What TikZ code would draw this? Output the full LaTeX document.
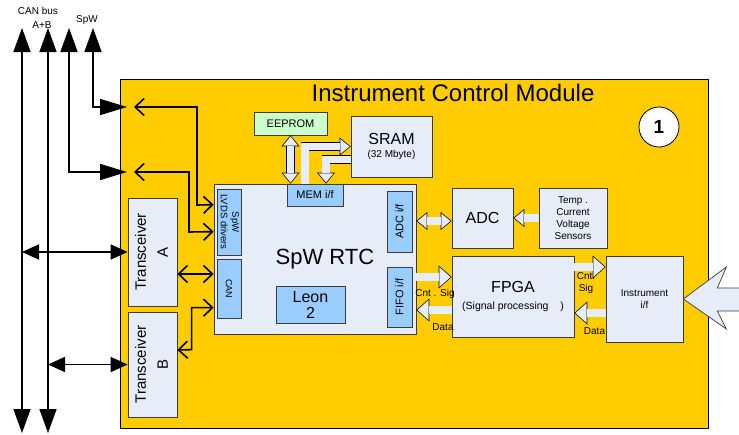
\documentclass[tikz,border=0pt]{standalone}
\usepackage{fontspec}
\setmainfont{Liberation Sans}
\usepackage{graphicx}
\usetikzlibrary{arrows.meta}
\definecolor{modyellow}{RGB}{255,204,0}
\definecolor{panel}{RGB}{230,236,248}
\definecolor{ifblue}{RGB}{153,204,255}
\definecolor{romgreen}{RGB}{204,255,204}
\definecolor{boxline}{RGB}{60,60,60}
\newcommand{\fsz}[2]{\fontsize{#1}{#2}\selectfont}

\begin{document}
\begin{tikzpicture}[x=1pt, y=-1pt, every node/.style={font=\fsz{10}{12}, inner sep=0pt}]
  \tikzstyle{box}=[rectangle, draw=boxline, line width=0.7pt, fill=panel, align=center]
  \tikzstyle{ifbox}=[box, fill=ifblue]
  \tikzstyle{bus}=[line width=1.6pt]
  \tikzstyle{fat}=[line width=8.5pt, line join=miter, -{Triangle[length=11pt,width=18pt,line width=0pt]},
    postaction={draw=panel, line width=7.1pt, line join=miter, shorten >=1.1pt, -{Triangle[length=9.2pt,width=15pt,line width=0pt]}}]
  \tikzstyle{fatbig}=[line width=8.5pt, line join=miter, -{Triangle[length=13pt,width=23pt,line width=0pt]},
    postaction={draw=panel, line width=7.1pt, line join=miter, shorten >=1.06pt, -{Triangle[length=11.2pt,width=19.9pt,line width=0pt]}}]
  \tikzstyle{fatboth}=[line width=8.5pt, line join=miter, {Triangle[length=11pt,width=18pt,line width=0pt]}-{Triangle[length=11pt,width=18pt,line width=0pt]},
    postaction={draw=panel, line width=7.1pt, line join=miter, shorten >=1.1pt, shorten <=1.1pt, {Triangle[length=9.2pt,width=15pt,line width=0pt]}-{Triangle[length=9.2pt,width=15pt,line width=0pt]}}]
  \tikzstyle{barbs}=[{Straight Barb[length=9pt,width=17pt]}-{Straight Barb[length=9pt,width=17pt]}]
  \useasboundingbox (0,0) rectangle (739,434);

  % module
  \node[rectangle, draw=black, line width=0.8pt, fill=modyellow, minimum width=588pt, minimum height=349pt] (icm) at (414,253.5) {};
  \node[font=\fsz{24}{28}] (title) at (453,93) {Instrument Control Module};
  \node[circle, draw=black, line width=0.8pt, fill=white, minimum size=40pt, font=\fsz{19}{22}\bfseries] (tag) at (659,127) {1};

  % bus labels
  \node (canlbl) at (38,11) {CAN bus};
  \node (ablbl) at (42,25) {A+B};
  \node (spwlbl) at (87,20) {SpW};

  % boxes
  \node[box, minimum width=49pt, minimum height=108pt, font=\fsz{15}{22}] (tra) at (152.5,252) {\rotatebox{90}{\begin{tabular}{@{}c@{}}Transceiver\\A\end{tabular}}};
  \node[box, minimum width=49pt, minimum height=105pt, font=\fsz{15}{22}] (trb) at (152.5,364.5) {\rotatebox{90}{\begin{tabular}{@{}c@{}}Transceiver\\B\end{tabular}}};
  \node[box, minimum width=202pt, minimum height=150pt, font=\fsz{22}{26}] (rtc) at (315,259) {\hspace*{20pt}SpW RTC};
  \node[ifbox, minimum width=24pt, minimum height=66pt, font=\fsz{9.5}{11.5}] (lvds) at (229,222) {\rotatebox{-90}{\begin{tabular}{@{}c@{}}SpW\\LVDS drivers\end{tabular}}};
  \node[ifbox, minimum width=24pt, minimum height=59pt, font=\fsz{9}{11}] (can) at (229,288.5) {\rotatebox{-90}{CAN}};
  \node[ifbox, minimum width=25pt, minimum height=61pt, font=\fsz{11}{13}] (adcif) at (399.5,221.5) {\rotatebox{90}{ADC i/f}};
  \node[ifbox, minimum width=25pt, minimum height=60pt, font=\fsz{11}{13}] (fifoif) at (399.5,297) {\rotatebox{90}{FIFO i/f}};
  \node[ifbox, minimum width=69pt, minimum height=37pt, font=\fsz{16}{16}] (leon) at (310.5,304.5) {Leon\\2};
  \node[ifbox, minimum width=56pt, minimum height=22pt, font=\fsz{11}{13}] (mem) at (315,195) {MEM i/f};
  \node[box, fill=romgreen, minimum width=73pt, minimum height=23pt, font=\fsz{11}{13}] (eeprom) at (290.5,123.5) {EEPROM};
  \node[box, minimum width=81pt, minimum height=61pt] (sram) at (391.5,146.5) {{\fsz{16}{18}SRAM}\\[1pt]{\fsz{10}{12}(32 Mbyte)}};
  \node[box, minimum width=61pt, minimum height=60pt, font=\fsz{16}{18}] (adc) at (482.5,218) {ADC};
  \node[box, minimum width=68pt, minimum height=60pt] (sens) at (573,218) {Temp .\\Current\\Voltage\\Sensors};
  \node[box, minimum width=122pt, minimum height=81pt] (fpga) at (513,296.5) {{\fsz{16}{18}FPGA}\\[5pt]{\fsz{10.5}{12}(Signal processing\ \ \ \ )}};
  \node[box, minimum width=77pt, minimum height=86pt] (instr) at (644.5,299) {Instrument\\i/f};

  % bus lines
  \coordinate (b1t) at (22,28);
  \coordinate (b1b) at (22,433);
  \coordinate (b2t) at (48,28);
  \coordinate (b2b) at (48,433);
  \coordinate (b3t) at (69,28);
  \coordinate (b4t) at (93,28);
  \coordinate (sp1) at (127,107);
  \coordinate (sp2) at (127,172);
  \coordinate (spi1) at (134,107);
  \coordinate (spi2) at (134,172);
  \draw[bus, {Triangle[length=24pt,width=17pt]}-{Triangle[length=24pt,width=17pt]}] (b1t) -- (b1b);
  \draw[bus, {Triangle[length=24pt,width=17pt]}-{Triangle[length=24pt,width=17pt]}] (b2t) -- (b2b);
  \draw[bus, {Triangle[length=24pt,width=17pt]}-{Triangle[length=27pt,width=16pt]}] (b3t) |- (sp2);
  \draw[bus, {Triangle[length=24pt,width=17pt]}-{Triangle[length=27pt,width=16pt]}] (b4t) |- (sp1);
  \draw[bus, {Triangle[length=17pt,width=15pt]}-{Triangle[length=17pt,width=15pt]}] (b1t |- tra.west) -- (tra.west);
  \draw[bus, {Triangle[length=17pt,width=15pt]}-{Triangle[length=17pt,width=15pt]}] (b2t |- trb.west) -- (trb.west);

  % links into the RTC
  \draw[bus, barbs] (spi1) -| ++(63,98) -- ([yshift=-21pt]rtc.north west);
  \draw[bus, barbs] (spi2) -| ++(55,60) -- ([yshift=-48pt]rtc.north west);
  \draw[bus, barbs] ([yshift=-22pt]tra.east) -- ([yshift=-22pt]tra.east -| rtc.west);
  \draw[bus, barbs] ([yshift=-124pt]rtc.north west) -| ++(-22,42) -- ([yshift=14.5pt]trb.east);

  % memory and data paths
  \draw[fatboth] (eeprom.south) -- (eeprom.south |- mem.north);
  \draw[fat] ([xshift=-10pt]mem.north) |- (sram.west);
  \draw[fat] ([yshift=-13pt]sram.west) -| ([xshift=11pt]mem.north);
  \draw[fatboth] ([yshift=-3pt]adc.west -| rtc.east) -- ([yshift=-3pt]adc.west);
  \draw[fat] (sens.west) -- (adc.east);
  \draw[fatbig] ([yshift=19.5pt]fpga.west -| rtc.east) -- ([yshift=19.5pt]fpga.west);
  \draw[fatbig] ([yshift=-13.5pt]fpga.west) -- ([yshift=-13.5pt]fpga.west -| rtc.east);
  \draw[fatbig] ([yshift=29.5pt]fpga.east) -- ([yshift=29.5pt]fpga.east -| instr.west);
  \draw[fatbig] ([yshift=-16.5pt]fpga.east -| instr.west) -- ([yshift=-16.5pt]fpga.east);
  \node (cnt1) at (435,294) {Cnt . Sig};
  \node (data1) at (443,327) {Data};
  \node[align=center] (cnt2) at (586,283) {Cnt.\\Sig};
  \node (data2) at (594.5,331) {Data};

  % instrument input
  \draw[line width=0.7pt, draw=boxline, fill=panel] (instr.east) -- ++(43,-32) -- ++(-9,21) -- ++(30,0) -- ++(0,23) -- ++(-30,0) -- ++(9,18) -- cycle;
\end{tikzpicture}
\end{document}
